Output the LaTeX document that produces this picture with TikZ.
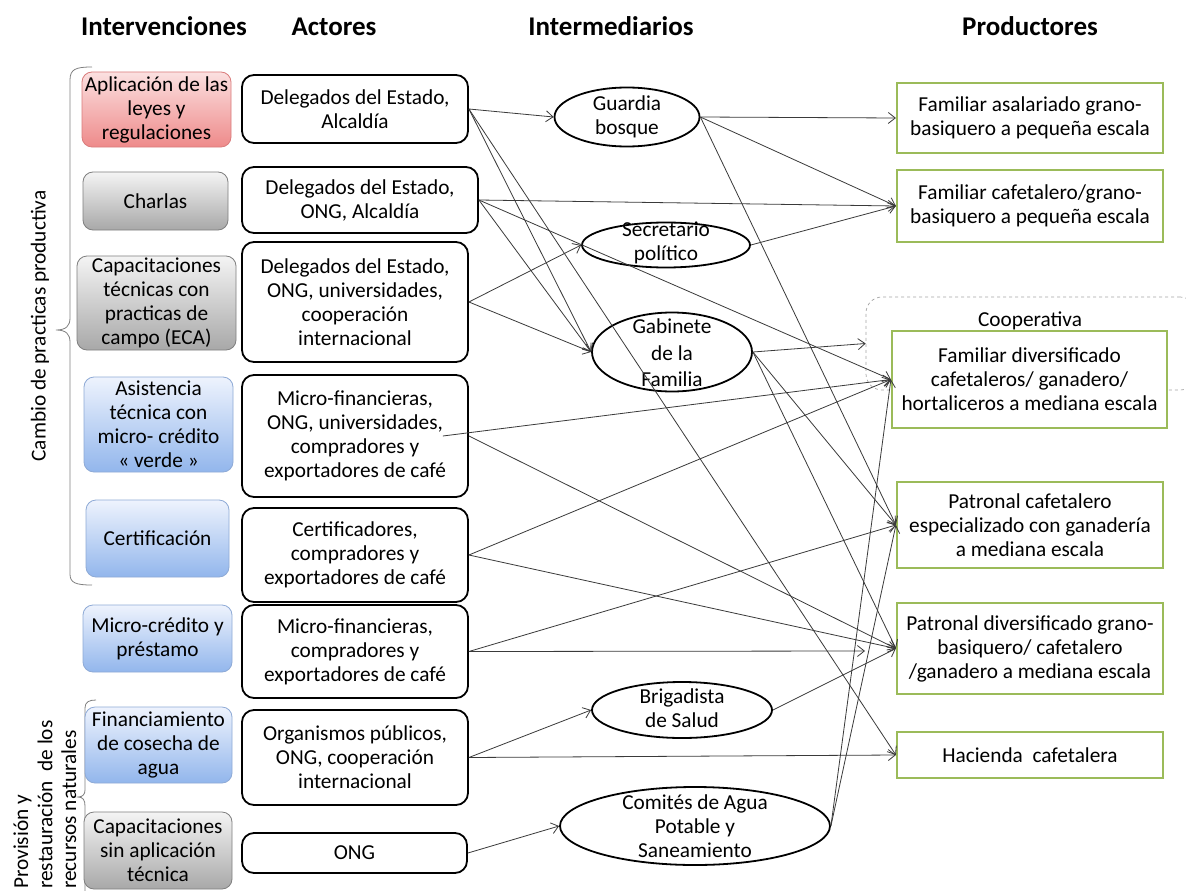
\documentclass[tikz,border=0pt]{standalone}
\usepackage{fontspec}
\setmainfont{Carlito}
\usetikzlibrary{arrows.meta,shapes.geometric,calc}
\definecolor{redtop}{HTML}{FBE0E0}
\definecolor{redbot}{HTML}{EE8A8A}
\definecolor{redline}{HTML}{DA7C7C}
\definecolor{graytop}{HTML}{F4F4F4}
\definecolor{graybot}{HTML}{A8A8A8}
\definecolor{grayline}{HTML}{7F7F7F}
\definecolor{bluetop}{HTML}{EEF3FD}
\definecolor{bluebot}{HTML}{92B6EC}
\definecolor{blueline}{HTML}{8EAAD6}
\definecolor{prodgreen}{HTML}{9BBB59}
\definecolor{linkgray}{HTML}{3A3A3A}
\begin{document}
\begin{tikzpicture}[x=1pt,y=-1pt,
  txt/.style={font=\fontsize{21.3}{24}\selectfont, align=center, inner sep=0pt},
  head/.style={font=\fontsize{27}{30}\selectfont\bfseries, inner sep=0pt, anchor=base},
  interv/.style={txt, rounded corners=10pt, line width=0.8pt},
  redbox/.style={interv, draw=redline, top color=redtop, bottom color=redbot},
  graybox/.style={interv, draw=grayline, top color=graytop, bottom color=graybot},
  bluebox/.style={interv, draw=blueline, top color=bluetop, bottom color=bluebot},
  actor/.style={txt, draw=black, fill=white, line width=1.8pt, rounded corners=12pt},
  ell/.style={ellipse, draw=black, line width=1.8pt, inner sep=0pt},
  prod/.style={txt, draw=prodgreen, fill=white, line width=2.2pt},
  coopbox/.style={draw=gray!70, dashed, line width=0.7pt, rounded corners=16pt, inner sep=0pt},
  link/.style={draw=linkgray, line width=0.8pt, -{Straight Barb[length=7pt,width=11pt]}},
  brace/.style={draw=gray, line width=0.8pt}
]
\useasboundingbox (0,0) rectangle (1186,891);
\fill[white] (0,0) rectangle (1186,891);

% headers
\node[head] (h1) at (164,36) {Intervenciones};
\node[head] (h2) at (334,36) {Actores};
\node[head] (h3) at (611,36) {Intermediarios};
\node[head] (h4) at (1030,36) {Productores};

% braces and group labels
\draw[brace] (92,67) .. controls (76,67) and (70,69) .. (70,80) -- (70,318)
  .. controls (70,326) and (66,330) .. (56,330)
  .. controls (66,330) and (70,334) .. (70,342) -- (70,574)
  .. controls (70,583) and (76,585) .. (92,585);
\node[txt, rotate=90] (g1) at (40,326) {Cambio de practicas productiva};
\draw[brace] (96,700) .. controls (89,700) and (85,702) .. (85,708) -- (85,790)
  .. controls (85,794) and (83,797) .. (78,797)
  .. controls (83,797) and (85,800) .. (85,806) -- (85,895);
\node[txt, rotate=90, anchor=west, align=left] (g2) at (45,889)
  {Provisión y\\restauración\ \ de los\\recursos naturales};

% interventions
\node[redbox, minimum width=149, minimum height=75] (I1) at (156.5,109.5) {Aplicación de las\\leyes y\\regulaciones};
\node[graybox, minimum width=145, minimum height=58] (I2) at (155.5,201) {Charlas};
\node[graybox, minimum width=159, minimum height=94] (I3) at (156.5,303) {Capacitaciones\\técnicas con\\practicas de\\campo (ECA)};
\node[bluebox, minimum width=149, minimum height=95] (I4) at (158.5,424.5) {Asistencia\\técnica con\\micro- crédito\\« verde »};
\node[bluebox, minimum width=143, minimum height=77] (I5) at (157.5,538.5) {Certificación};
\node[bluebox, minimum width=149, minimum height=67] (I6) at (157.5,638.5) {Micro-crédito y\\préstamo};
\node[bluebox, minimum width=147, minimum height=76] (I7) at (158.5,745) {Financiamiento\\de cosecha de\\agua};
\node[graybox, minimum width=148, minimum height=77] (I8) at (158,850.5) {Capacitaciones\\sin aplicación\\técnica};

% actors
\node[actor, minimum width=226, minimum height=68] (A1) at (355,109) {Delegados del Estado,\\Alcaldía};
\node[actor, minimum width=236, minimum height=66] (A2) at (360,200) {Delegados del Estado,\\ONG, Alcaldía};
\node[actor, minimum width=226, minimum height=120] (A3) at (355,302) {Delegados del Estado,\\ONG, universidades,\\cooperación\\internacional};
\node[actor, minimum width=226, minimum height=122] (A4) at (355,436) {Micro-financieras,\\ONG, universidades,\\compradores y\\exportadores de café};
\node[actor, minimum width=226, minimum height=94] (A5) at (355,555) {Certificadores,\\compradores y\\exportadores de café};
\node[actor, minimum width=226, minimum height=93] (A6) at (355,651.5) {Micro-financieras,\\compradores y\\exportadores de café};
\node[actor, minimum width=226, minimum height=95] (A7) at (355,757.5) {Organismos públicos,\\ONG, cooperación\\internacional};
\node[actor, minimum width=225, minimum height=40] (A8) at (354.5,853) {ONG};

% intermediaries
\node[ell, minimum width=145, minimum height=59] (G) at (627,117) {};
\node[txt] (Gt) at (627,117) {Guardia\\bosque};
\node[ell, minimum width=168, minimum height=45] (S) at (666,245) {};
\node[txt] (St) at (666,243) {Secretario\\político};
\node[ell, minimum width=160, minimum height=79] (F) at (672,352) {};
\node[txt, font=\fontsize{21.3}{26.5}\selectfont] (Ft) at (672,353) {Gabinete\\de la\\Familia};
\node[ell, minimum width=180, minimum height=56] (B) at (682,710) {};
\node[txt] (Bt) at (682,708) {Brigadista\\de Salud};
\node[ell, minimum width=270, minimum height=78] (C) at (695,826) {};
\node[txt] (Ct) at (695,826) {Comités de Agua\\Potable y\\Saneamiento};

% producers
\node[coopbox, minimum width=330, minimum height=93] (coop) at (1031,343.5) {};
\node[txt] (coopt) at (1030,321) {Cooperativa};
\node[prod, minimum width=266, minimum height=70] (P1) at (1030,118) {Familiar asalariado grano-\\basiquero a pequeña escala};
\node[prod, minimum width=266, minimum height=72] (P2) at (1030,206) {Familiar cafetalero/grano-\\basiquero a pequeña escala};
\node[prod, minimum width=275, minimum height=97] (P3) at (1029.5,379.5) {Familiar diversificado\\cafetaleros/ ganadero/\\hortaliceros a mediana escala};
\node[prod, minimum width=266, minimum height=86] (P4) at (1030,525) {Patronal cafetalero\\especializado con ganadería\\a mediana escala};
\node[prod, minimum width=266, minimum height=91] (P5) at (1030,648.5) {Patronal diversificado grano-\\basiquero/ cafetalero\\/ganadero a mediana escala};
\node[prod, minimum width=266, minimum height=46] (P6) at (1030,755) {Hacienda\ \ cafetalera};

\coordinate (a6end) at (865,651);

% connectors
\draw[link] (A1.east) -- (G.west);
\draw[link] (A1.east) -- (F.west);
\draw[link] (A1.east) -- (P6.west);
\draw[link] (A2.east) -- (P2.west);
\draw[link] (A2.east) -- (P3.west);
\draw[link] (A2.east) -- (F.west);
\draw[link] (A3.east) -- (S.west);
\draw[link] (A3.east) -- (F.west);
\draw[link] ($(A4.east)+(-26,0)$) -- (P3.west);
\draw[link] (A4.east) -- (P5.west);
\draw[link] (A5.east) -- (P3.west);
\draw[link] (A5.east) -- (P5.west);
\draw[link] (A6.east) -- (P4.west);
\draw[link] (A6.east) -- (a6end);
\draw[link] (A7.east) -- (B.west);
\draw[link] (A7.east) -- (P6.west);
\draw[link] (A8.east) -- (C.west);
\draw[link] (G.east) -- (P1.west);
\draw[link] (G.east) -- (P2.west);
\draw[link] (G.east) -- (P4.west);
\draw[link] (S.east) -- (P2.west);
\draw[link] (F.east) -- (coop.west);
\draw[link] (F.east) -- (P4.west);
\draw[link] (F.east) -- (P5.west);
\draw[link] (B.east) -- (P5.west);
\draw[link] (C.east) -- (P3.west);
\draw[link] (C.east) -- (P4.west);
\end{tikzpicture}
\end{document}
